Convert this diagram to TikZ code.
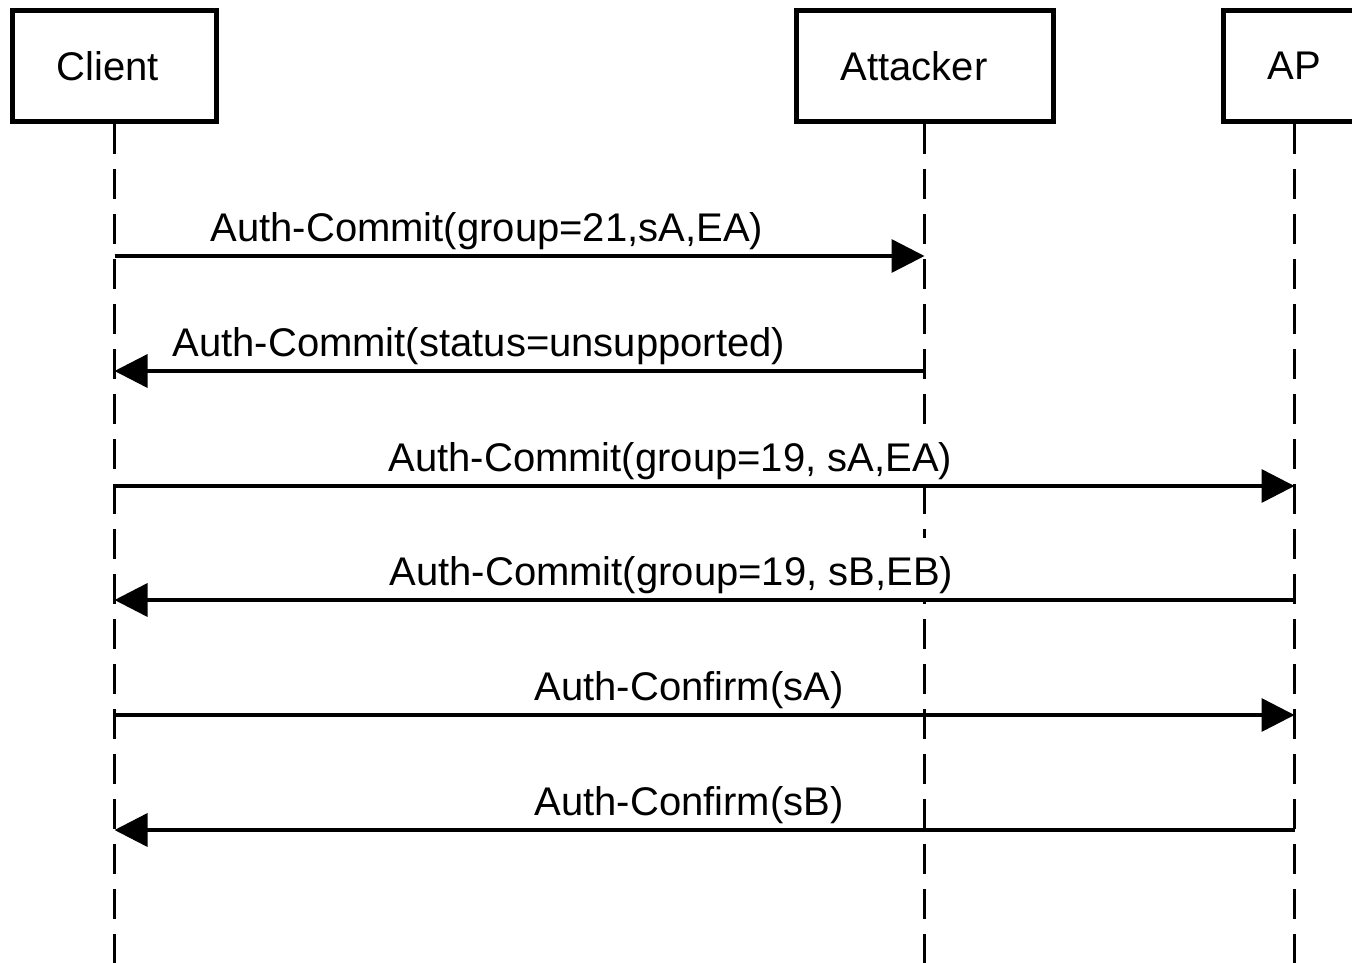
\documentclass[tikz,border=0pt]{standalone}
\usepackage{fontspec}
\setmainfont{Liberation Sans}
\usetikzlibrary{arrows.meta}
\begin{document}
\begin{tikzpicture}[x=0.75pt,y=-0.75pt,
  actor/.style={draw, line width=3.75pt, minimum height=83.6pt, inner sep=0pt,
    font=\fontsize{30}{36}\selectfont},
  lifeline/.style={line width=2.5pt, dash pattern=on 22.5pt off 11.25pt},
  msg/.style={line width=2.6pt, -{Triangle[length=24.75pt,width=24.75pt]}},
  lbl/.style={anchor=base west, inner xsep=1pt, inner ysep=0pt, fill=white,
    text height=35.25pt, text depth=11.25pt, font=\fontsize{30}{36}\selectfont}]
\useasboundingbox (0,0) rectangle (1352,963);
\clip (0,0) rectangle (1352,963);

% lifelines
\coordinate (cBot) at (114.5,963);
\coordinate (aBot) at (924.5,963);
\coordinate (pBot) at (1294.5,963);
\coordinate (cTop) at (114.5,124);
\coordinate (aTop) at (924.5,124);
\coordinate (pTop) at (1294.5,124);
\draw[lifeline] (cTop) -- (cBot);
\draw[lifeline] (aTop) -- (aBot);
\draw[lifeline] (pTop) -- (pBot);

% actor boxes
\node[actor, minimum width=153pt] (client) at (114.5,65.75) {Client\hspace*{9.75pt}};
\node[actor, minimum width=192.75pt] (attacker) at (924.5,65.75) {Attacker\hspace*{15.75pt}};
\node[actor, minimum width=106.5pt] (ap) at (1294.5,65.75) {AP};

% labels (white background hides the lifelines behind them)
\node[lbl] (l1) at (209,241) {Auth-Commit(group=21,sA,EA)};
\node[lbl] (l2) at (171,356) {Auth-Commit(status=unsupported)};
\node[lbl] (l3) at (387,471) {Auth-Commit(group=19, sA,EA)};
\node[lbl] (l4) at (388,585) {Auth-Commit(group=19, sB,EB)};
\node[lbl] (l5) at (533,700) {Auth-Confirm(sA)};
\node[lbl] (l6) at (533,815) {Auth-Confirm(sB)};

% message end points
\coordinate (m1s) at (114.5,256);  \coordinate (m1e) at (924.5,256);
\coordinate (m2s) at (924.5,371);  \coordinate (m2e) at (114.5,371);
\coordinate (m3s) at (114.5,486);  \coordinate (m3e) at (1294.5,486);
\coordinate (m4s) at (1294.5,600); \coordinate (m4e) at (114.5,600);
\coordinate (m5s) at (114.5,715);  \coordinate (m5e) at (1294.5,715);
\coordinate (m6s) at (1294.5,830); \coordinate (m6e) at (114.5,830);

\draw[msg] (m1s) -- (m1e);
\draw[msg] (m2s) -- (m2e);
\draw[msg] (m3s) -- (m3e);
\draw[msg] (m4s) -- (m4e);
\draw[msg] (m5s) -- (m5e);
\draw[msg] (m6s) -- (m6e);
\end{tikzpicture}
\end{document}
